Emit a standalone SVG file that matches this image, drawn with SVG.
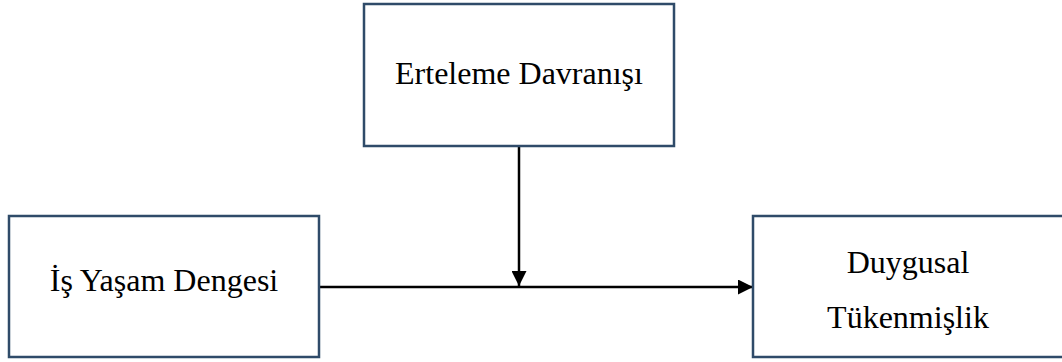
<svg xmlns="http://www.w3.org/2000/svg" width="1062" height="362" viewBox="0 0 1062 362">
  <style>
    .box { fill: #ffffff; stroke: #2f4b69; stroke-width: 2.5; }
    .label { font-family: "Liberation Serif", "Times New Roman", serif; font-size: 32px; fill: #000000; text-anchor: middle; }
    .link { stroke: #000000; stroke-width: 2.5; fill: none; }
  </style>
  <defs>
    <marker id="arrow" markerUnits="userSpaceOnUse" markerWidth="15" markerHeight="15" refX="15" refY="7.5" orient="auto">
      <path d="M0,0 L15,7.5 L0,15 Z" fill="#000000"/>
    </marker>
  </defs>
  <rect width="1062" height="362" fill="#ffffff"/>

  <g id="connectors">
    <line class="link" x1="519" y1="147" x2="519" y2="286" marker-end="url(#arrow)"/>
    <line class="link" x1="320" y1="287" x2="753" y2="287" marker-end="url(#arrow)"/>
  </g>

  <g id="erteleme">
    <rect class="box" x="364" y="4" width="310" height="142"/>
    <text class="label" x="519" y="84">Erteleme Davranışı</text>
  </g>

  <g id="is-yasam">
    <rect class="box" x="9" y="216" width="310" height="141"/>
    <text class="label" x="164" y="291">İş Yaşam Dengesi</text>
  </g>

  <g id="duygusal">
    <rect class="box" x="753" y="216" width="312" height="141"/>
    <text class="label" x="908" y="273">Duygusal</text>
    <text class="label" x="908" y="328">Tükenmişlik</text>
  </g>
</svg>
